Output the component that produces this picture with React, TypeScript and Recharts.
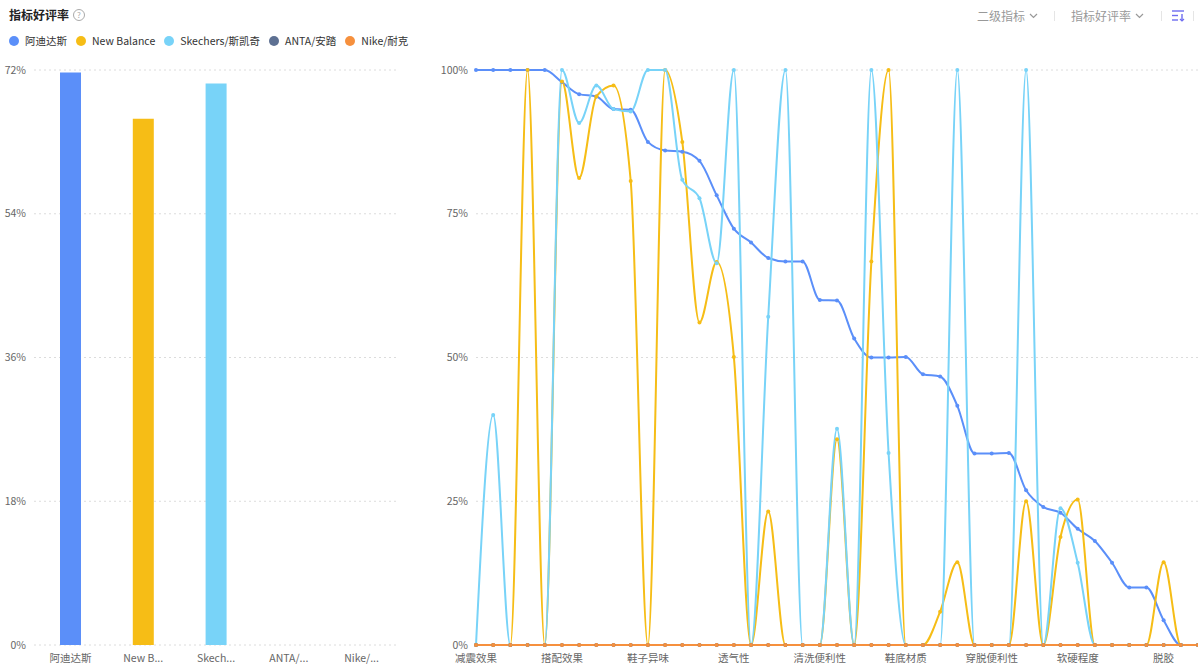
import React from 'react';
import { BarChart, Bar, Cell, LineChart, Line, XAxis, YAxis, CartesianGrid } from 'recharts';

const brands = ['阿迪达斯', 'New Balance', 'Skechers/斯凯奇', 'ANTA/安踏', 'Nike/耐克'];
const brandColors = ['#5B8FF9', '#F6BD16', '#78D3F8', '#5D7092', '#F6903D'];
const brandRates = [71.7, 65.9, 70.3, 0, 0];
const barTicks = [0, 18, 36, 54, 72];

const categories = [
  '减震效果', '舒适度', '包裹性', '防滑性', '耐磨性',
  '搭配效果', '外观设计', '颜色', '尺码', '做工质量',
  '鞋子异味', '重量', '鞋垫', '鞋带', '性价比',
  '透气性', '抓地力', '支撑性', '回弹', '鞋面材质',
  '清洗便利性', '防水性', '保暖性', '色差', '质感',
  '鞋底材质', '稳定性', '掉色', '磨脚', '鞋头',
  '穿脱便利性', '鞋跟', '闷脚', '偏码', '褶皱',
  '软硬程度', '线头', '气味', '包装', '开胶',
  '脱胶', '鞋舌', '物流',
];
const adidasRates = [100, 100, 100, 100, 100, 97.9, 95.8, 95.4, 93.2, 93.1, 87.5, 86.0, 85.8, 84.2, 78.2, 72.4, 70.0, 67.3, 66.7, 66.7, 60.0, 59.9, 53.3, 50.0, 50.0, 50.1, 47.1, 46.7, 41.6, 33.3, 33.3, 33.4, 26.9, 24.0, 23.0, 20.2, 18.1, 14.3, 10.0, 10.0, 4.3, 0, 0];
const nbRates = [0, 0, 0, 100, 0, 98, 81.2, 95.4, 97.3, 80.7, 0, 100, 87.5, 56.1, 66.6, 50.1, 0, 23.2, 0, 0, 0, 35.8, 0, 66.7, 100, 0, 0, 5.8, 14.4, 0, 0, 0, 25.0, 0, 18.8, 25.3, 0, 0, 0, 0, 14.4, 0, 0];
const skechersRates = [0, 40, 0, 0, 0, 100, 90.8, 97.3, 93.2, 92.8, 100, 100, 80.9, 77.7, 66.4, 100, 0, 57.1, 100, 0, 0, 37.6, 0, 100, 33.4, 0, 0, 0, 100, 0, 0, 0, 100, 0, 23.8, 14.3, 0, 0, 0, 0, 0, 0, 0];
const antaRates = categories.map(() => 0);
const nikeRates = categories.map(() => 0);
const lineTicks = [0, 25, 50, 75, 100];

const seriesKeys = ['adidas', 'nb', 'skechers', 'anta', 'nike'];
const seriesValues = [adidasRates, nbRates, skechersRates, antaRates, nikeRates];

const barData = brands.map((b, i) => ({ name: b, value: brandRates[i] }));
const lineData = categories.map((c, i) => {
  const row: Record<string, any> = { name: c };
  seriesKeys.forEach((k, j) => {
    row[k] = seriesValues[j][i];
  });
  return row;
});

const FONT = '"Noto Sans CJK SC", "Noto Sans", sans-serif';
const tickStyle = { fontSize: 10.5, fill: '#666', fontFamily: FONT };

const truncate = (s: string) => (s.length > 5 ? s.slice(0, 5) + '...' : s);

const Chevron = () => (
  <svg width="9" height="6" style={{ marginLeft: 4 }}>
    <polyline points="1,1 4.5,4.5 8,1" fill="none" stroke="#999" strokeWidth="1.2" />
  </svg>
);

export default function App() {
  return (
    <div style={{ position: 'absolute', left: 0, top: 0, width: 1198, height: 667, background: '#fff', fontFamily: FONT, overflow: 'hidden' }}>
      {/* title */}
      <div style={{ position: 'absolute', left: 9, top: 6, fontSize: 12, fontWeight: 700, color: '#222', lineHeight: '18px', display: 'flex', alignItems: 'center' }}>
        <span>指标好评率</span>
        <span style={{ marginLeft: 4, width: 10, height: 10, borderRadius: '50%', border: '1px solid #aaa', color: '#aaa', fontSize: 8, lineHeight: '10px', textAlign: 'center', fontWeight: 400, display: 'inline-block' }}>?</span>
      </div>
      {/* legend */}
      <div style={{ position: 'absolute', left: 9, top: 32, display: 'flex', alignItems: 'center', fontSize: 10.5, color: '#333', lineHeight: '18px' }}>
        {brands.map((b, i) => (
          <div key={b} style={{ display: 'flex', alignItems: 'center', marginRight: 9 }}>
            <span style={{ width: 10, height: 10, borderRadius: '50%', background: brandColors[i], display: 'inline-block', marginRight: 6 }} />
            <span>{b}</span>
          </div>
        ))}
      </div>
      {/* top-right controls */}
      <div style={{ position: 'absolute', left: 977, top: 7, fontSize: 12, color: '#999', display: 'flex', alignItems: 'center', lineHeight: '18px' }}>
        <span>二级指标</span>
        <Chevron />
        <span style={{ width: 1, height: 10, background: '#e5e5e5', marginLeft: 16, marginRight: 16 }} />
        <span>指标好评率</span>
        <Chevron />
        <span style={{ width: 1, height: 10, background: '#e5e5e5', marginLeft: 17, marginRight: 10 }} />
        <svg width="13" height="12">
          <line x1="0" y1="1" x2="12" y2="1" stroke="#6E6CF0" strokeWidth="1.4" />
          <line x1="0" y1="5.5" x2="6" y2="5.5" stroke="#6E6CF0" strokeWidth="1.4" />
          <line x1="0" y1="10" x2="6" y2="10" stroke="#6E6CF0" strokeWidth="1.4" />
          <line x1="10" y1="4" x2="10" y2="11" stroke="#6E6CF0" strokeWidth="1.4" />
          <polyline points="8,9 10,11 12,9" fill="none" stroke="#6E6CF0" strokeWidth="1.2" />
        </svg>
        <span style={{ width: 1, height: 10, background: '#e5e5e5', marginLeft: 8 }} />
      </div>

      {/* left bar chart */}
      <div style={{ position: 'absolute', left: 0, top: 0 }}>
        <BarChart width={400} height={667} data={barData} margin={{ top: 70, right: 2, bottom: 2, left: 0 }}>
          <CartesianGrid vertical={false} stroke="#dcdcdc" strokeDasharray="2 3" />
          <XAxis dataKey="name" tickLine={false} axisLine={false} tick={tickStyle} tickFormatter={truncate} height={20} tickMargin={4} interval={0} />
          <YAxis domain={[0, 72]} ticks={barTicks} tickFormatter={(v: number) => `${v}%`} tickLine={false} axisLine={false} tick={tickStyle} width={34} tickSize={0} tickMargin={8} />
          <Bar dataKey="value" barSize={21} isAnimationActive={false}>
            {barData.map((d, i) => (
              <Cell key={d.name} fill={brandColors[i]} />
            ))}
          </Bar>
        </BarChart>
      </div>

      {/* right line chart */}
      <div style={{ position: 'absolute', left: 430, top: 0 }}>
        <LineChart width={768} height={667} data={lineData} margin={{ top: 70, right: 0, bottom: 2, left: 0 }}>
          <CartesianGrid vertical={false} stroke="#dcdcdc" strokeDasharray="2 3" />
          <XAxis dataKey="name" tickLine={false} axisLine={false} tick={tickStyle} height={20} tickMargin={4} interval={4} />
          <YAxis domain={[0, 100]} ticks={lineTicks} tickFormatter={(v: number) => `${v}%`} tickLine={false} axisLine={false} tick={tickStyle} width={46} tickSize={0} tickMargin={8} />
          {seriesKeys.map((k, j) => (
            <Line
              key={k}
              type="monotone"
              dataKey={k}
              stroke={brandColors[j]}
              strokeWidth={2}
              dot={{ r: 2, fill: brandColors[j], stroke: 'none' }}
              activeDot={false}
              isAnimationActive={false}
            />
          ))}
        </LineChart>
      </div>
    </div>
  );
}
